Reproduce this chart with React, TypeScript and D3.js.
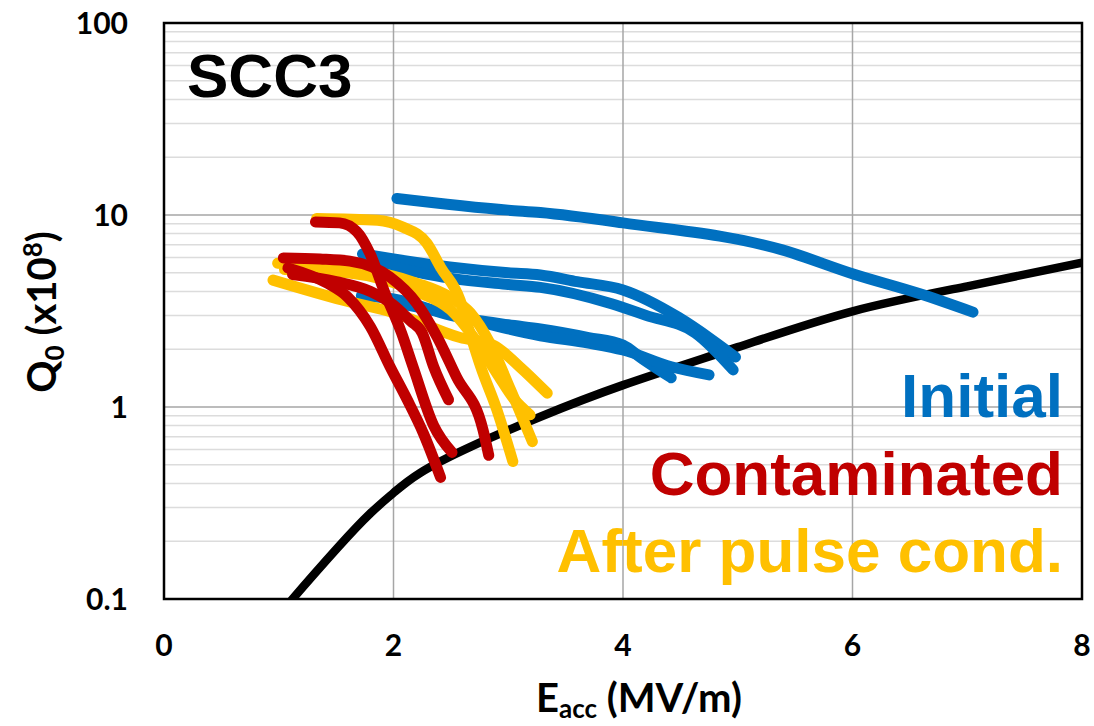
import React, { useRef, useEffect } from "react";
import * as d3 from "d3";

type Pt = [number, number];

// threshold curve
const limitCurve: Pt[] = [
  [1.0, 0.082], [1.12, 0.1], [1.51, 0.184], [1.8, 0.28], [2.0, 0.357], [2.23, 0.453], [2.67, 0.62],
  [3.28, 0.89], [4.0, 1.3], [5.0, 2.05], [6.0, 3.15], [7.0, 4.25], [8.0, 5.65],
];

// Initial (blue)
const initialRuns: Pt[][] = [
  [[2.03, 12.2], [3.0, 10.6], [3.28, 10.3], [4.0, 9.1], [5.38, 6.6], [6.02, 4.9], [6.58, 3.9], [7.05, 3.12]],
  [[1.73, 6.27], [2.0, 5.9], [2.49, 5.36], [3.0, 5.0], [3.28, 4.87], [3.6, 4.5], [4.0, 4.07], [4.48, 2.94], [4.78, 2.23], [4.98, 1.82]],
  [[1.8, 5.7], [2.49, 4.69], [3.0, 4.35], [3.28, 4.2], [3.9, 3.45], [4.2, 3.0], [4.63, 2.43], [4.96, 1.56]],
  [[1.72, 3.8], [2.0, 3.65], [2.5, 3.0], [3.0, 2.68], [3.28, 2.55], [3.7, 2.3], [4.0, 2.1], [4.17, 1.78], [4.42, 1.42]],
  [[1.95, 3.55], [2.5, 3.05], [3.0, 2.55], [3.28, 2.35], [3.7, 2.15], [4.0, 1.98], [4.42, 1.62], [4.75, 1.47]],
];

// After pulse conditioning (yellow)
const pulseRuns: Pt[][] = [
  [[1.33, 9.6], [1.86, 9.4], [2.08, 8.66], [2.29, 7.14], [2.41, 5.35], [2.58, 3.6], [2.66, 2.5], [2.76, 1.62], [2.9, 0.97], [3.04, 0.52]],
  [[0.95, 4.58], [1.56, 3.6], [2.0, 3.1], [2.58, 2.3], [2.87, 2.1], [3.1, 1.62], [3.34, 1.18]],
  [[0.99, 5.6], [1.62, 5.3], [2.2, 4.42], [2.49, 3.74], [2.67, 3.09], [2.84, 2.15], [3.02, 1.23], [3.21, 0.66]],
  [[1.05, 5.2], [1.6, 5.0], [2.2, 4.0], [2.5, 3.2], [2.7, 2.3], [2.9, 1.5], [3.05, 1.1], [3.19, 0.91]],
];

// Contaminated (red)
const contamRuns: Pt[][] = [
  [[1.32, 9.2], [1.53, 9.1], [1.68, 8.2], [1.8, 6.2], [1.92, 4.0], [2.07, 2.43], [2.17, 1.62], [2.35, 0.8], [2.51, 0.58]],
  [[1.04, 5.97], [1.36, 5.9], [1.62, 5.75], [1.97, 4.75], [2.2, 3.48], [2.38, 2.32], [2.55, 1.43], [2.78, 0.76], [2.83, 0.56]],
  [[1.12, 4.9], [1.5, 4.5], [1.8, 4.0], [2.0, 3.4], [2.15, 2.8], [2.25, 2.43], [2.35, 1.62], [2.48, 1.09]],
  [[1.08, 5.3], [1.42, 4.42], [1.6, 3.74], [1.8, 2.61], [1.97, 1.62], [2.12, 1.09], [2.26, 0.73], [2.41, 0.43]],
];

const xTicks = [0, 2, 4, 6, 8];
const yTicks = [0.1, 1, 10, 100];
const yTickLabels = ["0.1", "1", "10", "100"];
const legendLabels = ["Initial", "Contaminated", "After pulse cond."];
const legendColors = ["#0070C0", "#C00000", "#FFC000"];

const App = () => {
  const svgRef = useRef<SVGSVGElement>(null);

  useEffect(() => {
    const svg = d3.select(svgRef.current);
    svg.selectAll("*").remove();

    const width = 1094;
    const height = 726;
    const left = 164, right = 1082, top = 23, bottom = 599;

    svg.attr("width", width).attr("height", height);

    const x = d3.scaleLinear().domain([0, 8]).range([left, right]);
    const y = d3.scaleLog().domain([0.1, 100]).range([bottom, top]);

    // minor grid
    const minor: number[] = [];
    [0.1, 1, 10].forEach(d => { for (let k = 2; k <= 9; k++) minor.push(d * k); });
    svg.append("g")
      .selectAll("line")
      .data(minor)
      .join("line")
      .attr("x1", left).attr("x2", right)
      .attr("y1", d => y(d)).attr("y2", d => y(d))
      .attr("stroke", "#dcdcdc")
      .attr("stroke-width", 1.5);

    // major grid
    svg.append("g")
      .selectAll("line")
      .data([1, 10])
      .join("line")
      .attr("x1", left).attr("x2", right)
      .attr("y1", d => y(d)).attr("y2", d => y(d))
      .attr("stroke", "#a6a6a6")
      .attr("stroke-width", 1.5);
    svg.append("g")
      .selectAll("line")
      .data([2, 4, 6])
      .join("line")
      .attr("x1", d => x(d)).attr("x2", d => x(d))
      .attr("y1", top).attr("y2", bottom)
      .attr("stroke", "#a6a6a6")
      .attr("stroke-width", 1.5);

    svg.append("clipPath").attr("id", "plot-clip")
      .append("rect")
      .attr("x", left).attr("y", top)
      .attr("width", right - left).attr("height", bottom - top);

    const line = d3.line<Pt>()
      .x(d => x(d[0]))
      .y(d => y(d[1]))
      .curve(d3.curveMonotoneX);

    const smooth = d3.line<Pt>()
      .x(d => x(d[0]))
      .y(d => y(d[1]))
      .curve(d3.curveNatural);

    const plot = svg.append("g").attr("clip-path", "url(#plot-clip)");

    plot.append("path")
      .attr("d", smooth(limitCurve))
      .attr("fill", "none")
      .attr("stroke", "#000")
      .attr("stroke-width", 8.5);

    const groups: [Pt[][], string][] = [
      [initialRuns, "#0070C0"],
      [pulseRuns, "#FFC000"],
      [contamRuns, "#C00000"],
    ];
    groups.forEach(([runs, color]) => {
      plot.append("g")
        .selectAll("path")
        .data(runs)
        .join("path")
        .attr("d", d => line(d))
        .attr("fill", "none")
        .attr("stroke", color)
        .attr("stroke-width", 11)
        .attr("stroke-linecap", "round")
        .attr("stroke-linejoin", "round");
    });

    // frame
    svg.append("rect")
      .attr("x", left).attr("y", top)
      .attr("width", right - left).attr("height", bottom - top)
      .attr("fill", "none")
      .attr("stroke", "#000")
      .attr("stroke-width", 2.5);

    const tickFont = "Lato, 'Open Sans', sans-serif";

    // x tick labels
    svg.append("g")
      .selectAll("text")
      .data(xTicks)
      .join("text")
      .attr("x", d => x(d))
      .attr("y", 656)
      .attr("text-anchor", "middle")
      .attr("font-family", tickFont)
      .attr("font-weight", "bold")
      .attr("font-size", 30)
      .text(d => String(d));

    // y tick labels
    svg.append("g")
      .selectAll("text")
      .data(yTicks)
      .join("text")
      .attr("x", 128)
      .attr("y", d => y(d))
      .attr("dy", "0.36em")
      .attr("text-anchor", "end")
      .attr("font-family", tickFont)
      .attr("font-weight", "bold")
      .attr("font-size", 30)
      .text((d, i) => yTickLabels[i]);

    // x axis title
    const xt = svg.append("text")
      .attr("x", 639)
      .attr("y", 712)
      .attr("text-anchor", "middle")
      .attr("font-family", tickFont)
      .attr("font-weight", "bold")
      .attr("font-size", 40);
    xt.append("tspan").text("E");
    xt.append("tspan").attr("font-size", 26).attr("dy", 6).text("acc");
    xt.append("tspan").attr("dy", -6).text(" (MV/m)");

    // y axis title
    const yt = svg.append("text")
      .attr("transform", "translate(56,312) rotate(-90)")
      .attr("text-anchor", "middle")
      .attr("font-family", tickFont)
      .attr("font-weight", "bold")
      .attr("font-size", 40);
    yt.append("tspan").text("Q");
    yt.append("tspan").attr("font-size", 26).attr("dy", 8).text("0");
    yt.append("tspan").attr("dy", -8).text(" (x10");
    yt.append("tspan").attr("font-size", 26).attr("dy", -14).text("8");
    yt.append("tspan").attr("dy", 14).text(")");

    // panel label
    svg.append("text")
      .attr("x", 187)
      .attr("y", 97)
      .attr("font-family", "'Liberation Sans', Arial, sans-serif")
      .attr("font-weight", "bold")
      .attr("font-size", 62)
      .text("SCC3");

    // legend text
    svg.append("g")
      .selectAll("text")
      .data(legendLabels)
      .join("text")
      .attr("x", 1063)
      .attr("y", (d, i) => [417, 495, 572][i])
      .attr("text-anchor", "end")
      .attr("font-family", "'Liberation Sans', Arial, sans-serif")
      .attr("font-weight", "bold")
      .attr("font-size", 62)
      .attr("fill", (d, i) => legendColors[i])
      .text(d => d);
  }, []);

  return (
    <svg
      ref={svgRef}
      style={{ position: "absolute", left: 0, top: 0, display: "block", background: "#fff" }}
    />
  );
};

export default App;
